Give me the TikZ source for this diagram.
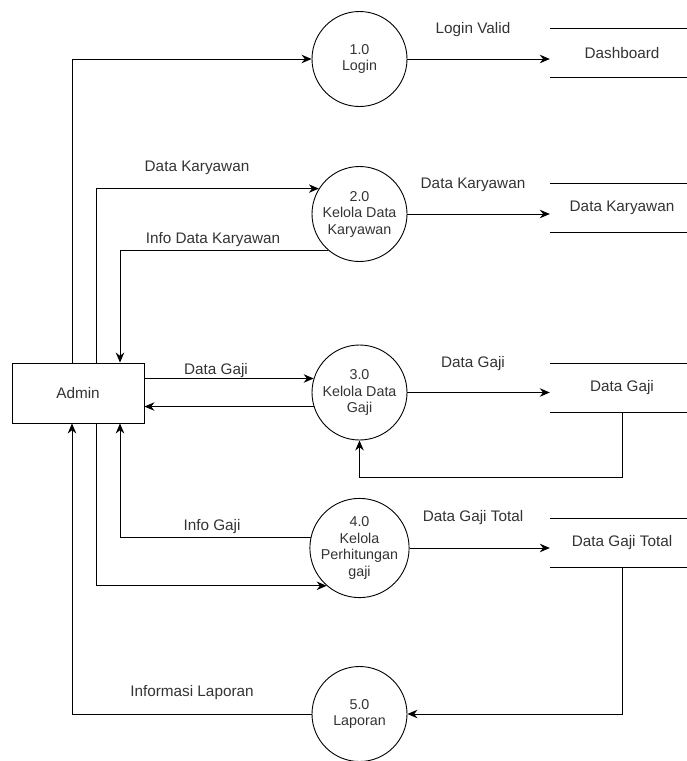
\documentclass[tikz,border=0pt]{standalone}
\usepackage{fontspec}
\setmainfont{Liberation Sans}
\usetikzlibrary{arrows.meta}
\tikzset{
  proc/.style  = {circle, draw, line width=0.9pt, minimum size=95pt,
                  inner sep=0pt, align=center, text=black!80,
                  font=\fontsize{14.3}{16.5}\selectfont},
  ent/.style   = {rectangle, draw, line width=0.9pt, minimum width=132pt,
                  minimum height=60pt, inner sep=0pt, text=black!80,
                  font=\fontsize{15.3}{18}\selectfont},
  store/.style = {rectangle, minimum width=144pt, minimum height=48pt,
                  inner sep=0pt, text=black!80,
                  font=\fontsize{15.3}{18}\selectfont},
  lbl/.style   = {inner sep=0pt, text=black!80,
                  font=\fontsize{15.3}{18}\selectfont},
  flow/.style  = {line width=0.9pt, -{Stealth[length=10pt,width=8.5pt]}}
}

\begin{document}
\begin{tikzpicture}[x=1pt,y=-1pt]
	\useasboundingbox (0,0) rectangle (686,761);
	\def \lw{0.9pt}

	% Columns of the lines at the admin box
	\coordinate (c1) at (72,0);
	\coordinate (c2) at (96,0);
	\coordinate (c3) at (120,0);

	% Entity
	\node[ent] (admin) at (78,393) {Admin};

	% Processes
	\node[proc] (p1) at (359.5,59)    {1.0\\Login};
	\node[proc] (p2) at (359.5,214)   {2.0\\Kelola Data\\Karyawan};
	\node[proc] (p3) at (359.5,392.5) {3.0\\Kelola Data\\Gaji};
	\node[proc] (p4) at (359.5,548)   {4.0\\Kelola\\Perhitungan\\gaji};
	\node[proc] (p5) at (359.5,714)   {5.0\\Laporan};

	% Data stores
	\node[store] (s1) at (622,53)  {Dashboard};
	\node[store] (s2) at (622,208) {Data Karyawan};
	\node[store] (s3) at (622,388) {Data Gaji};
	\node[store] (s4) at (622,543) {Data Gaji Total};
	\draw[line width=\lw] (s1.north west) -- (s1.north east) (s1.south west) -- (s1.south east);
	\draw[line width=\lw] (s2.north west) -- (s2.north east) (s2.south west) -- (s2.south east);
	\draw[line width=\lw] (s3.north west) -- (s3.north east) (s3.south west) -- (s3.south east);
	\draw[line width=\lw] (s4.north west) -- (s4.north east) (s4.south west) -- (s4.south east);

	% Flows 1.0
	\draw[flow] (admin.north -| c1) |- (p1.west);
	\draw[flow] (p1.east) -- (p1.east -| s1.west);

	% Flows 2.0
	\draw[flow] (admin.north -| c2) |- (p2.148);
	\draw[flow] (p2.229) -| (admin.north -| c3);
	\draw[flow] (p2.east) -- (p2.east -| s2.west);

	% Flows 3.0
	\draw[flow] (admin.east |- p3.163) -- (p3.163);
	\draw[flow] (p3.197) -- (admin.east |- p3.197);
	\draw[flow] (p3.east) -- (p3.east -| s3.west);
	\draw[flow] (s3.south) -- ++(0,65) -| (p3.south);

	% Flows 4.0
	\draw[flow] (p4.168) -| (admin.south -| c3);
	\draw[flow] (admin.south -| c2) |- (p4.229);
	\draw[flow] (p4.east) -- (p4.east -| s4.west);

	% Flows 5.0
	\draw[flow] (s4.south) |- (p5.east);
	\draw[flow] (p5.west) -| (admin.south -| c1);

	% Flow names
	\node[lbl] (t1) at (473,30)  {Login Valid};
	\node[lbl] (t2) at (197,168) {Data Karyawan};
	\node[lbl] (t3) at (213,240) {Info Data Karyawan};
	\node[lbl] (t4) at (473,185) {Data Karyawan};
	\node[lbl] (t5) at (216,371) {Data Gaji};
	\node[lbl] (t6) at (473,364) {Data Gaji};
	\node[lbl] (t7) at (212,527) {Info Gaji};
	\node[lbl] (t8) at (473,518) {Data Gaji Total};
	\node[lbl] (t9) at (192,693) {Informasi Laporan};
\end{tikzpicture}
\end{document}
